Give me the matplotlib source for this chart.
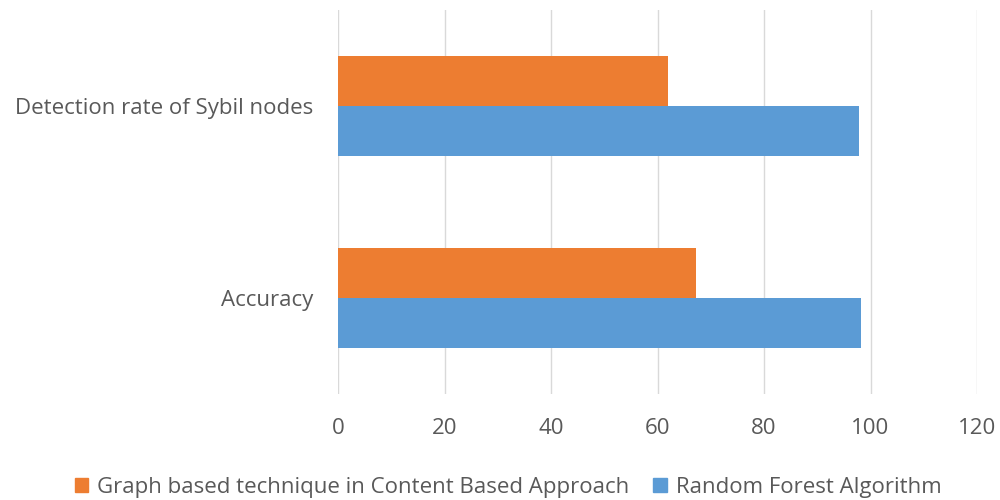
import numpy as np
import matplotlib.pyplot as plt
from matplotlib.patches import Patch

categorie = ['Accuracy', 'Detection rate of Sybil nodes']
graph_based = [67.2, 62.0]
random_forest = [98.3, 97.9]
serie = ['Graph based technique in Content Based Approach', 'Random Forest Algorithm']
tick_x = [0, 20, 40, 60, 80, 100, 120]

arancio = '#ED7D31'
blu = '#5B9BD5'
grigio = '#595959'

plt.rcParams['font.family'] = ['Open Sans', 'DejaVu Sans']

fig = plt.figure(figsize=(10, 5), dpi=100)
ax = fig.add_axes([0.338, 0.212, 0.639, 0.768])

y = np.arange(len(categorie)) + 0.5
h = 0.26
ax.barh(y + h / 2, graph_based, height=h, color=arancio, zorder=3)
ax.barh(y - h / 2, random_forest, height=h, color=blu, zorder=3)

ax.set_xlim(0, 120)
ax.set_ylim(0, 2)
ax.set_xticks(tick_x)
ax.set_yticks(y)
ax.set_yticklabels(categorie)
ax.xaxis.grid(True, color='#d9d9d9', linewidth=1, zorder=0)
for s in ax.spines.values():
    s.set_visible(False)
ax.tick_params(axis='both', length=0, colors=grigio, labelsize=16)
ax.tick_params(axis='x', pad=17)
ax.tick_params(axis='y', pad=18)

handles = [Patch(color=arancio), Patch(color=blu)]
fig.legend(handles, serie, loc='lower center', bbox_to_anchor=(0.508, -0.035),
           ncol=2, frameon=False, fontsize=16, labelcolor=grigio,
           handlelength=0.6, handleheight=0.6, handletextpad=0.4, columnspacing=1.1)

fig.savefig('out.png', dpi=100)
